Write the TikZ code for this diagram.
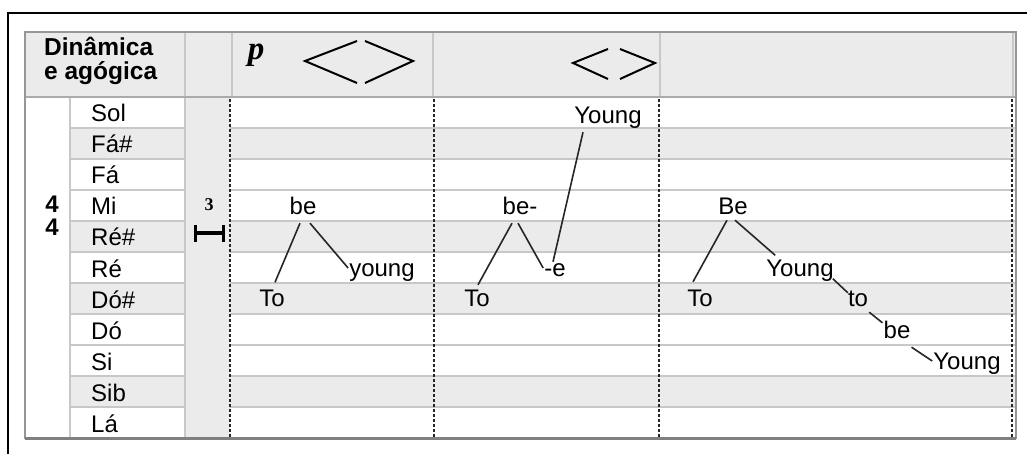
\documentclass[tikz,border=0pt]{standalone}
\usepackage{fontspec}
\setmainfont{Liberation Sans}
\newfontfamily\dynfont{Liberation Serif}
\usepackage{tikz}
\usetikzlibrary{positioning}
\definecolor{keygrey}{RGB}{235,235,235}
\definecolor{rule}{RGB}{200,200,200}
\definecolor{frame}{RGB}{150,150,150}
\tikzset{
    pitch/.style={anchor=west, inner sep=0pt, text height=17pt, text depth=0pt, font=\fontsize{24}{24}\selectfont},
    lyric/.style={inner sep=1pt, text height=17pt, text depth=0pt, font=\fontsize{24}{24}\selectfont},
    meter/.style={font=\bfseries\fontsize{24}{24}\selectfont},
    gridline/.style={draw=rule, line width=2pt},
    barline/.style={draw=black!85, dash pattern=on 3pt off 2pt},
    hairpin/.style={draw=black, line width=2pt},
    word/.style={draw=black!85, line width=1.6pt}
}

\begin{document}
\begin{tikzpicture}[x=1pt, y=-1pt]
    \useasboundingbox (0,0) rectangle (1027,454);
    % Frame
    \draw[line width=1.8pt] (8,454) -- (8,13) -- (1027,13);
    % Table
    \fill[keygrey] (25,32) rectangle (1016,97);
    \fill[keygrey] (185,97) rectangle (230,438);
    \foreach \pname/\tone [count=\i] in {Sol/white, Fá\#/keygrey, Fá/white, Mi/white, Ré\#/keygrey, Ré/white, Dó\#/keygrey, Dó/white, Si/white, Sib/keygrey, Lá/white} {
        \fill[\tone] (70,66+31*\i) rectangle (185,97+31*\i);
        \fill[\tone] (230,66+31*\i) rectangle (1016,97+31*\i);
        \node (p\i) [pitch] at (91,82.5+31*\i) {\pname};
    }
    \foreach \i in {1,...,10} {
        \draw[gridline] (70,97+31*\i) -- (185,97+31*\i);
        \draw[gridline] (230,97+31*\i) -- (1016,97+31*\i);
    }
    \draw[gridline] (70,97) -- (70,438);
    \draw[gridline] (185,97) -- (185,438);
    \foreach \x in {185,232,433,660,1013}
        \draw[gridline] (\x,32) -- (\x,97);
    \draw[gridline, draw=frame!80] (25,97) -- (1016,97);
    \draw[frame, line width=2pt] (25,32) rectangle (1016,438);
    \draw[frame!85!black, line width=3pt] (25,438) -- (1016,438);
    \foreach \x/\w in {230/1.8, 434/2.6, 659/2.6, 1012/2.2}
        \draw[barline, line width=\w pt] (\x,99) -- (\x,437);
    % Header
    \node (head) [align=left, anchor=west, inner sep=0pt, font=\bfseries\fontsize{24.5}{24}\selectfont] at (44,60.5) {Dinâmica\\e agógica};
    \node (num) [meter] at (52,204) {4};
    \node (den) [meter, below=0pt of num] {4};
    \node (trip) [font=\dynfont\bfseries\fontsize{18}{18}\selectfont] at (209,205) {3};
    \draw[line width=4pt] (195,233) -- (223,233);
    \draw[line width=3pt] (195,225) -- (195,242) (223,225) -- (223,242);
    \node (dyn) [font=\dynfont\bfseries\itshape\fontsize{33}{33}\selectfont] at (256,55) {p};
    \draw[hairpin] (357,41) -- (305,61) -- (357,83);
    \draw[hairpin] (365,41) -- (413,61) -- (365,83);
    \draw[hairpin] (608,49) -- (573,63) -- (608,79);
    \draw[hairpin] (620,49) -- (655,63) -- (620,79);
    % Lyrics
    \node (to1) [lyric] at (272,298) {To};
    \node (be1) [lyric] at (303,206) {be};
    \node (young1) [lyric] at (382,268) {young};
    \node (to2) [lyric] at (477,298) {To};
    \node (be2) [lyric] at (520,206) {be-};
    \node (e2) [lyric] at (555,268) {-e};
    \node (young2) [lyric] at (608,115) {Young};
    \node (to3) [lyric] at (700,298) {To};
    \node (be3) [lyric] at (733,206) {Be};
    \node (young3) [lyric] at (800,268) {Young};
    \node (to4) [lyric] at (858,298) {to};
    \node (be4) [lyric] at (897,330) {be};
    \node (young4) [lyric] at (967,361) {Young};
    % Lines
    \draw[word] ([xshift=3pt, yshift=6pt]to1.north) -- ([xshift=-3pt, yshift=-7.5pt]be1.south);
    \draw[word] ([xshift=7pt, yshift=-7.5pt]be1.south) -- (young1.west);
    \draw[word] ([xshift=1pt, yshift=3.5pt]to2.north) -- ([xshift=-8pt, yshift=-7.5pt]be2.south);
    \draw[word] ([xshift=-2pt, yshift=-7.5pt]be2.south) -- (e2.west);
    \draw[word] ([xshift=-2pt, yshift=-3.5pt]e2.north) -- ([xshift=-25pt, yshift=-7.5pt]young2.south);
    \draw[word] ([xshift=-7pt, yshift=6.5pt]to3.north) -- ([xshift=-6pt, yshift=-4.5pt]be3.south);
    \draw[word] ([xshift=2pt, yshift=-4.5pt]be3.south) -- ([xshift=10pt, yshift=3pt]young3.north west);
    \draw[word] ([xshift=-2pt, yshift=-1pt]young3.south east) -- ([xshift=1pt, yshift=-4.5pt]to4.north west);
    \draw[word] ([yshift=-4.5pt]to4.south east) -- ([yshift=-2.5pt]be4.north west);
    \draw[word] ([yshift=-7.5pt]be4.south east) -- (young4.west);
\end{tikzpicture}
\end{document}
